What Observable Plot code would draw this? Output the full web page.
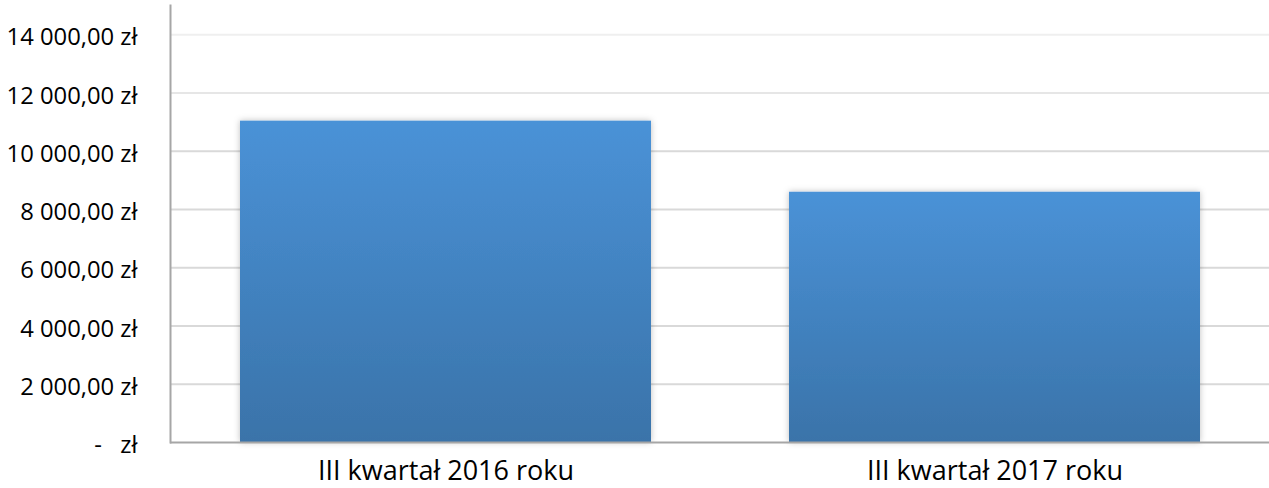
<!DOCTYPE html>
<html>
<head>
<meta charset="utf-8">
<script src="https://cdn.jsdelivr.net/npm/d3@7"></script>
<script src="https://cdn.jsdelivr.net/npm/@observablehq/plot@0.6"></script>
<style>
  html, body { margin: 0; padding: 0; background: #ffffff; }
  #chart { width: 1269px; height: 488px; }
</style>
</head>
<body>
<div id="chart"></div>
<script>
const categories = ["III kwartał 2016 roku", "III kwartał 2017 roku"];
const values = [11030, 8590];
const yTicks = [0, 2000, 4000, 6000, 8000, 10000, 12000, 14000];

const data = categories.map((c, i) => ({category: c, value: values[i]}));

function fmt(d) {
  if (d === 0) return "-\u00a0\u00a0\u00a0zł";
  return d3.format(",.2f")(d).replace(/,/g, " ").replace(".", ",") + " zł";
}

const gridColor = d => d >= 14000 ? "#efefef" : d >= 12000 ? "#e6e6e6" : "#d9d9d9";

const chart = Plot.plot({
  width: 1269,
  height: 488,
  marginLeft: 170,
  marginRight: 0,
  marginTop: 5,
  marginBottom: 46,
  style: {fontFamily: "'Open Sans', sans-serif", fontSize: "23px", color: "#000", background: "#fff"},
  x: {domain: categories, paddingInner: 0.252, paddingOuter: 0.126, label: null},
  y: {domain: [0, 15000], label: null},
  marks: [
    Plot.ruleY(yTicks.filter(d => d > 0), {stroke: gridColor, strokeWidth: 2}),
    Plot.barY(data, {x: "category", y: "value", fill: "url(#barGrad)", className: "bars"}),
    Plot.frame({anchor: "left", stroke: "#a6a6a6", strokeWidth: 2}),
    Plot.ruleY([0], {stroke: "#a6a6a6", strokeWidth: 2}),
    Plot.axisY({ticks: yTicks, tickSize: 0, tickPadding: 33, tickFormat: fmt, dy: 3, fontSize: 23.8, fill: "#000"}),
    Plot.axisX({tickSize: 0, tickPadding: 18, fontSize: 27, fill: "#000"})
  ]
});

const svg = d3.select(chart);
const defs = svg.insert("defs", ":first-child");
const g = defs.append("linearGradient").attr("id", "barGrad")
  .attr("x1", 0).attr("y1", 0).attr("x2", 0).attr("y2", 1);
g.append("stop").attr("offset", "0%").attr("stop-color", "#4a92d7");
g.append("stop").attr("offset", "100%").attr("stop-color", "#3a73a9");
const f = defs.append("filter").attr("id", "barShadow")
  .attr("x", "-10%").attr("y", "-10%").attr("width", "120%").attr("height", "120%");
f.append("feDropShadow").attr("dx", 0).attr("dy", 0).attr("stdDeviation", 3)
  .attr("flood-color", "#000").attr("flood-opacity", 0.25);
svg.selectAll(".bars rect").attr("filter", "url(#barShadow)");

document.getElementById("chart").appendChild(chart);
</script>
</body>
</html>
